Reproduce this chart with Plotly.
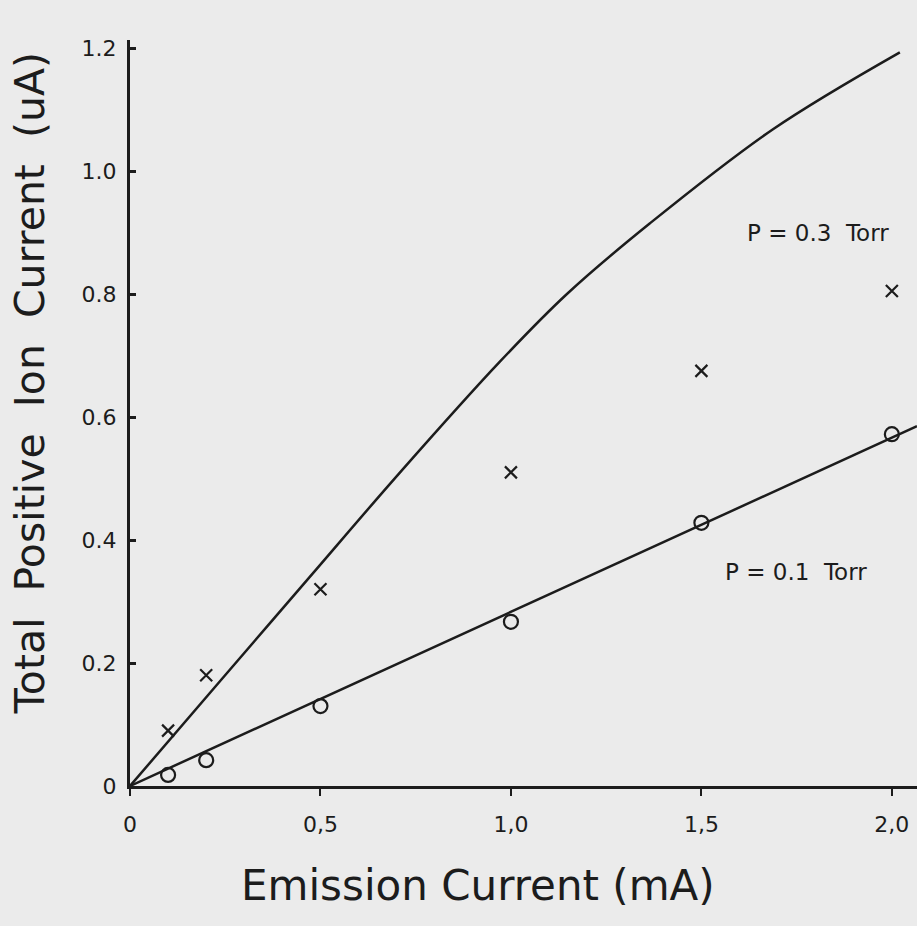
import plotly.graph_objects as go

# Measured points
x_pts = [0.1, 0.2, 0.5, 1.0, 1.5, 2.0]
y_03 = [0.09, 0.18, 0.32, 0.51, 0.675, 0.805]   # P = 0.3 Torr (crosses)
y_01 = [0.018, 0.042, 0.13, 0.267, 0.428, 0.572]  # P = 0.1 Torr (circles)

# Drawn curve for P = 0.3 Torr
curve03_x = [0.0, 0.244, 0.472, 0.709, 0.971, 1.147, 1.365, 1.688, 2.021]
curve03_y = [0.0, 0.176, 0.340, 0.510, 0.690, 0.800, 0.915, 1.068, 1.193]

# Drawn straight line for P = 0.1 Torr
line01_x = [0.0, 2.066]
line01_y = [0.0, 0.585]

x_tickvals = [0, 0.5, 1.0, 1.5, 2.0]
x_ticktext = ["0", "0,5", "1,0", "1,5", "2,0"]
y_tickvals = [0, 0.2, 0.4, 0.6, 0.8, 1.0, 1.2]
y_ticktext = ["0", "0.2", "0.4", "0.6", "0.8", "1.0", "1.2"]

ink = "#1c1c1c"
font = "DejaVu Sans"

fig = go.Figure()
fig.add_trace(go.Scatter(x=curve03_x, y=curve03_y, mode="lines",
                         line=dict(color=ink, width=2.5, shape="spline", smoothing=1.0),
                         showlegend=False, hoverinfo="skip"))
fig.add_trace(go.Scatter(x=line01_x, y=line01_y, mode="lines",
                         line=dict(color=ink, width=2.5),
                         showlegend=False, hoverinfo="skip"))
fig.add_trace(go.Scatter(x=x_pts, y=y_03, mode="markers",
                         marker=dict(symbol="x-thin", size=12, line=dict(color=ink, width=2.2)),
                         showlegend=False))
fig.add_trace(go.Scatter(x=x_pts, y=y_01, mode="markers",
                         marker=dict(symbol="circle-open", size=14, color=ink, line=dict(color=ink, width=2.2)),
                         showlegend=False))

fig.add_annotation(x=1.806, y=0.90, text="P = 0.3&nbsp;&nbsp;Torr", showarrow=False,
                   font=dict(family=font, size=23, color=ink))
fig.add_annotation(x=1.748, y=0.348, text="P = 0.1&nbsp;&nbsp;Torr", showarrow=False,
                   font=dict(family=font, size=23, color=ink))

# Axis titles (placed as annotations to match the original offsets)
fig.add_annotation(xref="paper", yref="paper", x=0.442, y=-0.133,
                   xanchor="center", yanchor="middle",
                   text="Emission Current (mA)", showarrow=False,
                   font=dict(family=font, size=42, color=ink))
fig.add_annotation(xref="paper", yref="paper", x=-0.127, y=0.54, textangle=-90,
                   xanchor="center", yanchor="middle",
                   text="Total&nbsp;&nbsp;Positive&nbsp;&nbsp;Ion&nbsp;&nbsp;Current&nbsp;&nbsp;(uA)",
                   showarrow=False, font=dict(family=font, size=41, color=ink))

fig.update_layout(
    width=917, height=926,
    margin=dict(l=130, r=0, t=40, b=140),
    paper_bgcolor="#ebebeb", plot_bgcolor="#ebebeb",
    font=dict(family=font, color=ink),
    xaxis=dict(range=[0, 2.066], tickvals=x_tickvals, ticktext=x_ticktext,
               showgrid=False, zeroline=False, showline=True, linecolor=ink, linewidth=3,
               ticks="outside", ticklen=7, tickwidth=2, tickcolor=ink,
               ticklabelstandoff=10,
               tickfont=dict(family=font, size=22, color=ink)),
    yaxis=dict(range=[0, 1.213], tickvals=y_tickvals, ticktext=y_ticktext,
               showgrid=False, zeroline=False, showline=True, linecolor=ink, linewidth=3,
               ticks="inside", ticklen=6, tickwidth=3, tickcolor=ink,
               ticklabelstandoff=6,
               tickfont=dict(family=font, size=22, color=ink)),
)

fig.write_html("out.html")
